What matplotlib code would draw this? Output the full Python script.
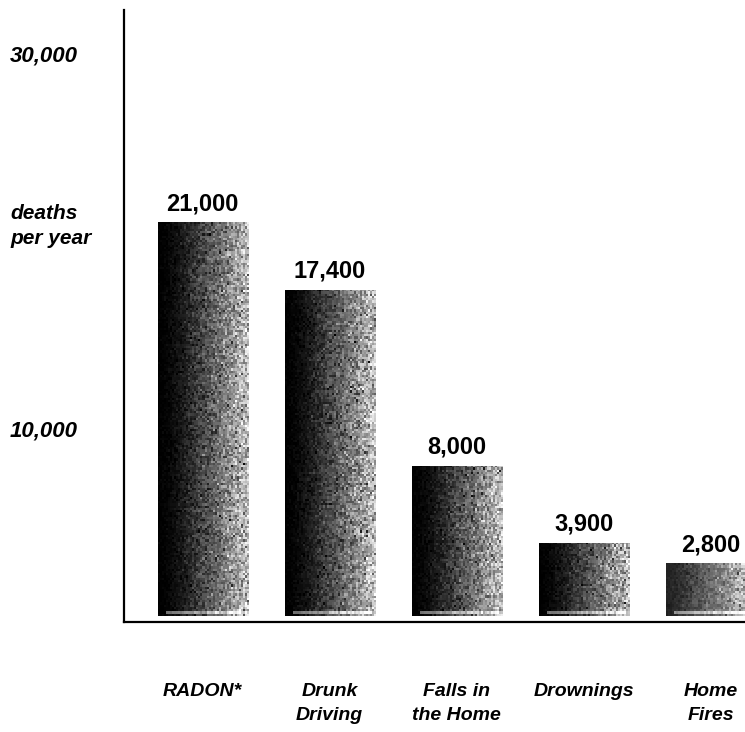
import matplotlib.pyplot as plt
import numpy as np

causes = ["RADON*", "Drunk\nDriving", "Falls in\nthe Home", "Drownings", "Home\nFires"]
deaths = [21000, 17400, 8000, 3900, 2800]
value_labels = ["21,000", "17,400", "8,000", "3,900", "2,800"]
ytick_vals = [10000, 30000]
ytick_labels = ["10,000", "30,000"]

plt.rcParams['font.family'] = ['Liberation Sans', 'DejaVu Sans']

fig = plt.figure(figsize=(7.45, 7.32), dpi=100)
ax = fig.add_axes([0.1664, 0.1503, 0.8336, 0.836])

x = np.arange(len(causes))
bars = ax.bar(x, deaths, width=0.71, color="#222222", edgecolor="none", zorder=2)

# speckled shading: solid black on the left, mottled grey toward the right
rng = np.random.default_rng(7)
for i, b in enumerate(bars):
    h = max(8, int(b.get_height() / 120))
    w = 45
    grad = np.linspace(0.0, 1.0, w)[None, :] ** 1.5 * 0.66
    grad = np.repeat(grad, h, axis=0)
    lift = 0.12 if i == len(bars) - 1 else 0.0
    noise = rng.normal(0, 0.25, (h, w)) * (grad + 0.05)
    tex = np.clip(grad + lift + noise, 0, 1)
    tex[-2, 4:-2] = np.clip(tex[-2, 4:-2] + 0.35, 0, 1)
    x0, y0 = b.get_x(), b.get_y()
    im = ax.imshow(1 - tex, cmap="Greys", vmin=0, vmax=1, aspect="auto",
                   extent=[x0, x0 + b.get_width(), y0, y0 + b.get_height()],
                   interpolation="nearest", zorder=3)
    im.set_clip_path(b)

for b, lab in zip(bars, value_labels):
    ax.annotate(lab, (b.get_x() + b.get_width() / 2, b.get_height()),
                xytext=(0, 5), textcoords="offset points",
                ha="center", va="bottom", fontsize=17, fontweight="bold")

ax.set_xlim(-0.62, 4.27)
ax.set_ylim(-320, 32300)

ax.set_xticks(x)
ax.set_xticklabels(causes, fontsize=14, fontweight="bold", style="italic",
                   linespacing=1.55, va="top")
ax.tick_params(axis="x", length=0, pad=44)

ax.set_yticks(ytick_vals)
ax.set_yticklabels(ytick_labels, fontsize=16, fontweight="bold", style="italic",
                   ha="left")
ax.tick_params(axis="y", length=0, pad=82)

fig.text(10 / 745, 1 - 226 / 732, "deaths\nper year", fontsize=15,
         fontweight="bold", style="italic", ha="left", va="center",
         linespacing=1.45)

for s in ["top", "right"]:
    ax.spines[s].set_visible(False)
for s in ["left", "bottom"]:
    ax.spines[s].set_linewidth(1.6)

fig.savefig("out.png", dpi=100)
